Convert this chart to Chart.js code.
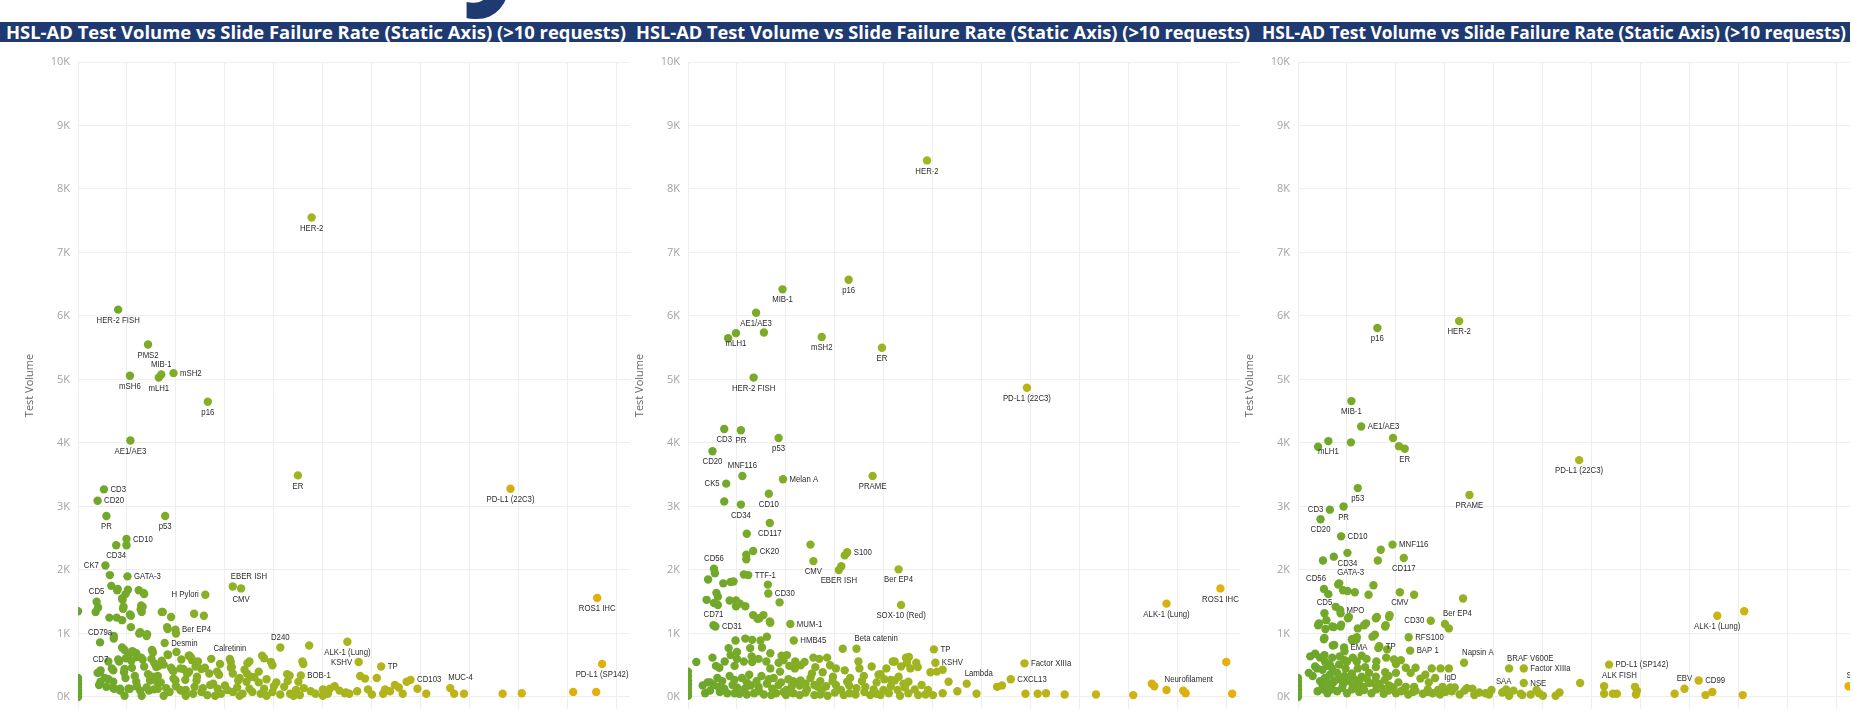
<!DOCTYPE html>
<html><head><meta charset="utf-8">
<script src="https://cdn.jsdelivr.net/npm/chart.js@4.4.1/dist/chart.umd.min.js"></script>
<style>
html,body{margin:0;padding:0;width:1853px;height:709px;overflow:hidden;background:#fff;}
.bar{position:absolute;top:22px;height:20px;left:0;width:1850px;background:#1f3a70;overflow:hidden;}
.ttl{position:absolute;top:32px;color:#fff;font:700 18.5px 'Open Sans',sans-serif;white-space:nowrap;transform-origin:0 50%;line-height:1;}
.panel{position:absolute;top:48px;width:610px;height:661px;}
#big{position:absolute;left:462px;top:-132px;font:700 134px/134px 'Open Sans',sans-serif;color:#1f3a70;}
</style></head><body>
<div id="big">y</div>
<div class="bar"></div>
<div class="ttl" data-w="620" style="left:6px">HSL-AD Test Volume vs Slide Failure Rate (Static Axis) (&gt;10 requests)</div>
<div class="ttl" data-w="614" style="left:636px">HSL-AD Test Volume vs Slide Failure Rate (Static Axis) (&gt;10 requests)</div>
<div class="ttl" data-w="584" style="left:1262px">HSL-AD Test Volume vs Slide Failure Rate (Static Axis) (&gt;10 requests)</div>
<canvas id="c0" class="panel" style="left:20px" width="610" height="661"></canvas>
<canvas id="c1" class="panel" style="left:630px" width="610" height="661"></canvas>
<canvas id="c2" class="panel" style="left:1240px" width="610" height="661"></canvas>
<script>
// ---------- axis ticks ----------
const yTicks = [0,1000,2000,3000,4000,5000,6000,7000,8000,9000,10000];
const xGridTicks = [0,1,2,3,4,5,6,7,8,9,10,11];
const X_MAX = 11.27;
const Y_MIN = -189;
const Y_MAX = 10000;

// ---------- panel 1 ----------
const p1Tests = ['HER-2','HER-2 FISH','PMS2','MIB-1','mSH2','mSH6','mLH1','p16','AE1/AE3','ER','PD-L1 (22C3)','CD3','CD20','PR','p53','CD10','CD34','CK7','GATA-3','EBER ISH','CMV','H Pylori','CD5','ROS1 IHC','Ber EP4','CD79a','Desmin','Calretinin','D240','ALK-1 (Lung)','KSHV','TP','CD7','BOB-1','CD103','MUC-4','PD-L1 (SP142)'];
const p1Rate = [4.77,0.82,1.43,1.70,1.95,1.06,1.65,2.65,1.07,4.49,8.83,0.53,0.40,0.58,1.78,0.99,0.78,0.56,1.01,3.16,3.33,2.60,0.38,10.60,1.99,0.45,1.77,3.10,4.13,5.50,5.73,6.19,0.46,4.55,6.79,7.60,10.70];
const p1Volume = [7550,6100,5550,5080,5100,5060,5030,4650,4040,3490,3280,3270,3090,2850,2850,2490,2390,2070,1900,1740,1710,1610,1500,1560,1060,860,850,600,780,870,550,480,420,340,270,140,520];
const p1Side = ['b','b','b','t','r','b','b','b','b','b','b','r','r','b','b','r','b','l','r','tr','b','l','t','b','r','t','r','t','t','b','l','r','t','r','r','tr','b'];
const p1OtherRate = [0,0,0,0,0,0,0,0, 0.65,0.99, 0.68,0.81,1.02,0.97,1.24,1.34,0.90, 0.36,0.41,0.93,1.29,1.28,1.06,1.71,1.90,2.37,2.57, 0.64,0.79,0.90, 1.08,1.27,1.41,0.73,1.82,2.00, 0.90,1.11,1.19,1.51,2.01,2.26,1.83,0.95,1.03,1.13, 0.82,1.09,1.29,1.56,1.71,2.11,2.31,2.72,3.50,3.76,3.94,4.58,4.72,1.65,0.84,0.98,1.32, 0.69,0.95,1.43,1.63,1.90,1.95,2.15,2.27,2.52,2.84,3.12,3.40,3.69,4.27,5.76,5.86,6.10,4.60,3.46,3.12,3.80,3.97, 0.46,0.62,0.72,0.97,1.19,1.47,1.69,1.99,2.19,2.42,2.76,3.00,3.27,3.44,3.69,4.21,4.61,5.14,5.24,5.34,5.92,6.27,6.47,6.71,6.93,3.45,3.53,2.68,2.88,4.32,4.28,2.23,1.54,1.16,0.45,0.72,0.94, 0.58,0.74,0.86,1.06,1.27,1.45,1.63,1.87,2.11,2.35,2.52,2.64,2.92,3.16,3.36,3.56,3.73,3.97,4.13,4.33,4.53,4.85,5.10,5.54,6.23,6.63,7.11,7.68,7.88,8.67,9.06,10.11,10.58, 0.43,1.20,1.61,1.95,2.09,2.43,5.47,6.37,6.55, 5.00,4.40,3.85,3.30,2.80,2.20,1.75,1.30,0.95,
  0.80,0.91,1.35,0.92,1.32,1.30,1.08,1.73,1.83,1.25,1.40,0.73,1.20,1.53,1.84,2.28,2.33,1.60,1.75,1.93,2.09,2.23,2.40,2.59,3.14,3.16, 0.72,0.86,1.03,1.20,1.40,1.55,1.80,2.00,2.20,2.38,2.55,2.70,2.85,3.05,3.25,3.50,3.80,4.00,4.45,4.75,5.00,5.45,5.70,6.00, 1.10,1.35,0.55,0.40,0.62,1.50,2.45,2.90,3.30,3.60,3.85,4.05,4.50];
const p1OtherVolume = [1350,300,250,200,150,100,50,0, 1920,2390, 1750,1700,1690,1620,1680,1640,1550, 1340,1410,1420,1440,1380,1300,1340,1260,1310,1280, 1250,1250,1210, 1100,1020,990,960,1100,1000, 780,720,690,740,710,650,670,740,660,710, 590,570,620,530,570,590,620,600,560,650,550,560,810,490,560,610,590, 450,440,360,330,460,410,440,400,440,400,460,430,400,360,330,290,300,520,530,550,610,500, 240,280,240,300,240,260,230,260,270,260,210,180,260,240,230,160,140,130,170,100,120,120,190,240,130,370,320,370,350,340,250,370,320,330,390,420,390, 160,130,100,130,100,100,130,80,100,50,80,30,50,80,50,80,50,80,40,50,30,50,50,50,50,50,50,50,50,50,60,80,80, 190,170,240,290,110,320,70,90,150, 20,20,20,20,20,20,20,20,20,
  1680,1530,1620,1390,1420,1340,1280,1340,1070,1000,960,920,630,700,660,650,580,470,510,420,450,370,480,460,470,370, 140,130,130,170,150,120,140,170,110,160,140,190,130,110,150,130,130,170,110,90,120,60,90,40, 460,480,300,380,560,600,560,520,300,310,280,230,240];

// ---------- panel 2 ----------
const p2Tests = ['HER-2','p16','MIB-1','AE1/AE3','mLH1','mSH2','ER','HER-2 FISH','PD-L1 (22C3)','CD3','PR','p53','CD20','MNF116','Melan A','PRAME','CK5','CD34','CD10','CD117','CK20','S100','CMV','EBER ISH','Ber EP4','CD56','TTF-1','CD30','SOX-10 (Red)','ALK-1 (Lung)','ROS1 IHC','CD71','CD31','MUM-1','HMB45','Beta catenin','TP','KSHV','Factor XIIIa','Lambda','CXCL13','Neurofilament'];
const p2Rate = [4.88,3.28,1.93,1.39,0.98,2.73,3.96,1.34,6.92,0.74,1.08,1.85,0.50,1.11,1.94,3.77,0.78,1.08,1.65,1.67,1.33,3.25,2.56,3.08,4.30,0.53,1.23,1.64,4.35,9.77,10.87,0.52,0.56,2.09,2.16,3.44,5.02,5.05,6.87,5.69,6.59,9.77];
const p2Volume = [8450,6570,6420,6050,5730,5670,5500,5030,4870,4220,4200,4080,3870,3480,3430,3480,3360,3030,3200,2740,2300,2280,2140,2000,2010,2020,1920,1630,1450,1470,1710,1130,1110,1150,890,760,750,540,530,210,280,110];
const p2Side = ['b','b','b','b','b','b','b','b','b','b','b','b','b','t','r','b','l','b','b','b','r','r','b','b','b','t','r','r','b','b','b','t','r','r','r','tr','r','r','r','tr','r','tr'];
const p2OtherRate = [0.82,1.55,0.74,1.20,1.19,1.19,3.20,2.50,3.13,1.14,0.55,0.41,0.72,0.87,0.93,1.63,1.87,0.38,0.58,0.61,0.53,0.61,0.85,0.98,0.98,1.06,1.17,1.33,1.42,1.54,1.67,1.46,1.68, 0.97,1.17,1.31,1.48,1.61,0.83,0.87,1.00,1.27,1.51,1.68,1.91,2.02, 0.17,0.57,0.64,0.95,1.14,1.31,1.44,1.85,2.07,2.19,2.38,2.56,2.68,2.84,3.16,3.48,4.18,4.45,4.66,4.22,4.47,4.51, 1.68,1.88,2.18,2.53,2.75,2.96,3.02,3.31,3.59,3.89,4.01,4.30,4.54,4.95,5.08,5.20,4.69,3.93, 0.40,0.52,0.62,0.74,0.91,1.00,1.16,1.28,1.44,1.61,1.72,1.85,2.01,2.12,2.28,2.43,2.58,2.73,2.82,3.02,3.12,3.29,3.44,3.62,3.79,3.99,4.14,4.28,4.43,4.63,4.77,4.90,4.14,4.22,4.50,5.32, 2.28,2.58,2.85,3.18,3.42,3.72,3.93,4.33,4.70,5.00,5.89,6.31,6.41,6.89,7.14,7.31,7.69,8.33,9.09,9.47,9.52,10.11,10.16,10.99,11.11, 0,0,0,0,0,0,0, 0.30,0.45,0.80,1.05,1.35,1.55,1.80,2.00,0.60,0.85,1.10,1.25,1.50,1.75,2.05,2.30,2.50,2.70,
  0.45,0.70,0.95,1.20,1.40,1.65,1.90,2.15,2.40,2.65,2.95,3.25,3.55,3.85,4.40, 0.35,0.65,0.95,1.20,1.45,1.70,1.95,2.15,2.40,2.70,3.00,3.30,3.60,3.85,4.10,4.50,4.85,5.20,5.50, 0.50,0.75,1.00,1.30,1.60,1.95,2.30,2.60,2.90,3.20,3.50,3.75,4.05,4.35];
const p2OtherVolume = [5650,5740,3080,2570,2240,2170,2230,2400,2060,1930,1950,1850,1790,1810,1820,1770,1490,1530,1640,1580,1480,1450,1520,1520,1430,1470,1430,1290,1230,1290,1190,1240,1170, 890,920,900,890,950,770,660,710,770,780,690,650,660, 550,490,460,490,560,550,600,540,490,560,550,620,600,620,760,560,560,620,540,560,540,630, 450,400,450,370,390,320,450,300,330,350,280,320,450,390,400,430,470,360, 230,190,160,130,190,150,130,180,160,210,130,190,110,170,180,120,190,110,170,190,110,180,140,160,120,110,170,110,150,120,190,110,270,260,240,240, 30,30,20,30,40,30,30,20,30,30,50,160,180,50,50,60,40,40,30,210,170,100,60,550,50, 400,330,260,200,140,80,20, 180,100,60,50,60,40,60,30,300,330,300,350,330,300,280,260,300,250,
  230,250,270,230,250,280,230,250,210,160,250,240,250,230,210, 60,80,60,40,90,30,80,60,70,40,70,60,80,50,60,60,40,60,90, 620,560,600,640,560,580,500,470,500,420,450,480,450,480];

// ---------- panel 3 ----------
const p3Tests = ['p16','HER-2','MIB-1','AE1/AE3','mLH1','ER','PD-L1 (22C3)','p53','PRAME','CD3','PR','CD20','CD10','MNF116','CD34','CD117','GATA-3','CD56','CMV','CD5','MPO','CD30','Ber EP4','TP','RFS100','EMA','BAP 1','Napsin A','BRAF V600E','Factor XIIIa','NSE','SAA','IgD','PD-L1 (SP142)','ALK FISH','EBV','CD99','ALK-1 (Lung)','SOX-10 (Red)'];
const p3Rate = [1.62,3.29,1.09,1.29,0.62,2.18,5.74,1.22,3.50,0.65,0.93,0.46,0.88,1.93,1.01,2.16,0.84,0.53,2.08,0.54,0.86,2.71,3.00,1.66,2.26,0.94,2.29,3.39,4.31,4.61,4.61,4.20,3.11,6.35,6.25,7.89,8.18,8.56,11.24];
const p3Volume = [5810,5920,4660,4260,4030,3910,3730,3290,3180,2950,3000,2800,2530,2400,2270,2190,1790,1700,1650,1320,1370,1200,1150,800,940,780,730,540,450,450,220,80,150,510,170,130,260,1280,170];
const p3Side = ['b','b','b','r','b','b','b','b','b','l','b','b','r','r','b','b','tr','tl','b','t','r','l','tr','r','r','r','r','tr','tr','r','r','t','t','r','tr','t','r','b','tr'];
const p3OtherRate = [0.41,1.08,1.94,2.06,1.69,0.51,0.73,1.63,0.62,0.92,1.01,1.16,1.44,1.54,2.37,3.37,0.77,0.43,0.58,0.73,0.88,1.04,1.39,1.61,1.79,1.87,3.08,0.54,0.74,1.10,1.20,1.57,1.82,9.11, 0.82,0.87,1.02,1.59,1.86,0.41,0.56,0.70,0.87,1.22,1.35,1.78,0.53,1.11,1.19,1.52,1.64,0.45,0.54,0.71,0.95, 0.22,0.39,0.60,0.70,0.84,0.97,1.10,1.22,1.37,1.59,1.78,1.96,2.10,2.40,2.73,2.91,3.08, 0.50,0.64,0.72,0.84,0.92,1.04,1.18,1.33,1.40,1.59,1.77,1.86,2.05,2.20,2.37,2.50,2.67,2.86,3.01,3.14,3.56,3.70,3.83,4.17,4.31,4.58,4.92,5.26, 5.76,6.25,6.43,6.51,6.88,6.92,6.90,7.69,8.32,8.46,9.08,5.34,4.87,4.55,3.95,4.25, 0,0,0,0,0,0, 0.30,0.55,0.65,0.80,0.95,1.05,1.15,1.30,1.45,1.55,1.70,1.85,2.00,2.30,0.40,0.60,0.80,1.00,1.25,1.50,1.75,2.00,2.25,2.55,2.75,3.30,3.45,2.60,2.80,0.95,1.12,1.30,0.35,0.25,
  0.55,0.70,0.85,1.00,1.20,1.40,1.60,1.80,2.00,2.20, 0.45,0.60,0.75,0.90,1.10,1.25,1.45,1.65,1.95,2.15,2.40,2.65,2.95,3.20,3.40, 0.50,0.70,0.90,1.10,1.35,1.60,1.85,2.10,2.35,2.65,2.90,3.60,3.90,4.40,4.75,5.00, 0.35,0.50,0.65];
const p3OtherVolume = [3940,4010,4080,3950,2320,2150,2210,2150,1620,1680,1670,1650,1610,1760,1610,1550,1420,1160,1210,1100,1140,1260,1160,1260,1130,1290,1080,930,820,910,940,980,750,1350, 1770,1320,1240,1240,1260,1130,1070,1110,1110,1080,1130,1110,910,890,900,950,770,620,660,810,720, 380,450,490,450,510,450,370,450,470,470,390,590,580,460,450,450,450, 190,170,230,290,200,250,190,160,290,320,270,180,230,160,160,290,230,110,80,90,130,70,60,70,20,30,60,20, 220,50,50,50,160,100,40,50,30,80,30,70,110,50,110,120, 300,240,180,120,60,0, 330,300,350,380,330,300,280,320,380,220,150,330,380,380,90,60,90,60,80,60,50,60,40,50,60,40,140,350,300,580,620,650,680,640,
  560,620,640,560,560,600,560,620,520,460, 250,230,260,250,220,250,220,210,150,110,100,120,160,150,100, 120,120,140,120,110,120,100,90,80,80,40,30,40,100,40,20, 480,430,510];

// ---------- helpers ----------
const colorStops = [[0,[104,166,45]],[0.4,[161,181,31]],[1,[232,176,10]]];
function rateColor(x){
  const t = Math.max(0, Math.min(1, (x||0) / X_MAX));
  for (let i = 1; i < colorStops.length; i++) {
    const [t1, c1] = colorStops[i];
    const [t0, c0] = colorStops[i-1];
    if (t <= t1) {
      const f = (t - t0) / (t1 - t0);
      const c = c0.map((v,k) => Math.round(v + (c1[k]-v)*f));
      return `rgb(${c[0]},${c[1]},${c[2]})`;
    }
  }
  return 'rgb(232,176,10)';
}

const pointLabels = {
  id: 'pointLabels',
  afterDatasetsDraw(chart) {
    const ctx = chart.ctx;
    const meta = chart.getDatasetMeta(1);
    const data = chart.data.datasets[1].data;
    ctx.save();
    ctx.font = '9.5px "Liberation Sans", Arial, sans-serif';
    ctx.fillStyle = '#2b2b2b';
    ctx.textBaseline = 'middle';
    const sx = 0.82;
    meta.data.forEach((el, i) => {
      const d = data[i];
      const px = el.x, py = el.y;
      let tx = px, ty = py, align = 'center';
      switch (d.side) {
        case 'b': ty = py + 10.5; break;
        case 't': ty = py - 10.5; break;
        case 'r': tx = px + 6.5; align = 'left'; break;
        case 'l': tx = px - 6.5; align = 'right'; break;
        case 'tr': tx = px - 2; ty = py - 10.5; align = 'left'; break;
        case 'tl': tx = px + 2; ty = py - 10.5; align = 'right'; break;
      }
      ctx.save();
      ctx.translate(tx, ty);
      ctx.scale(sx, 1);
      ctx.textAlign = align;
      ctx.fillText(d.name, 0, 0);
      ctx.restore();
    });
    ctx.restore();
  }
};

function makePanel(id, tests, rate, volume, side, oRate, oVolume) {
  const labelled = tests.map((n, i) => ({x: rate[i], y: volume[i], name: n, side: side[i]}));
  const others = oRate.map((r, i) => ({x: r, y: oVolume[i]}));
  const pointStyle = {
    pointRadius: 4.2, pointHoverRadius: 4.2, pointBorderWidth: 0,
    backgroundColor: c => rateColor(c.raw && c.raw.x),
    borderColor: c => rateColor(c.raw && c.raw.x)
  };
  new Chart(document.getElementById(id), {
    type: 'scatter',
    data: { datasets: [
      Object.assign({label: 'Other tests', data: others}, pointStyle),
      Object.assign({label: 'Labelled tests', data: labelled}, pointStyle)
    ]},
    options: {
      responsive: false, animation: false, events: [],
      layout: {autoPadding: false, padding: {top: 14, left: 0, right: 0, bottom: 0}},
      plugins: {legend: {display: false}, tooltip: {enabled: false}},
      scales: {
        x: {
          type: 'linear', min: 0, max: X_MAX,
          border: {display: false},
          grid: {color: '#eeeeee', drawTicks: false},
          ticks: {display: false},
          afterBuildTicks: s => { s.ticks = xGridTicks.map(v => ({value: v})); },
          afterFit: s => { s.height = 0; s.paddingLeft = 0; s.paddingRight = 0; s.paddingTop = 0; s.paddingBottom = 0; }
        },
        y: {
          type: 'linear', min: Y_MIN, max: Y_MAX,
          border: {display: false},
          grid: {color: '#eeeeee', drawTicks: false},
          ticks: {color: '#a3a3a3', font: {family: 'Open Sans', size: 11}, padding: 8,
                  callback: v => (v / 1000) + 'K'},
          afterBuildTicks: s => { s.ticks = yTicks.map(v => ({value: v})); },
          afterFit: s => { s.width = 58; s.paddingTop = 0; s.paddingBottom = 0; s.paddingLeft = 0; s.paddingRight = 0; },
          title: {display: true, text: 'Test Volume', color: '#666', font: {family: 'Open Sans', size: 11}, padding: {top: 3, bottom: 0}}
        }
      }
    },
    plugins: [pointLabels]
  });
}

makePanel('c0', p1Tests, p1Rate, p1Volume, p1Side, p1OtherRate, p1OtherVolume);
makePanel('c1', p2Tests, p2Rate, p2Volume, p2Side, p2OtherRate, p2OtherVolume);
makePanel('c2', p3Tests, p3Rate, p3Volume, p3Side, p3OtherRate, p3OtherVolume);

// fit title text width (condensed bold look)
document.querySelectorAll('.ttl').forEach(sp => {
  const w = sp.getBoundingClientRect().width;
  const k = (+sp.dataset.w) / w;
  sp.style.transform = `translateY(-50%) scaleX(${k})`;
});
</script>
</body></html>
